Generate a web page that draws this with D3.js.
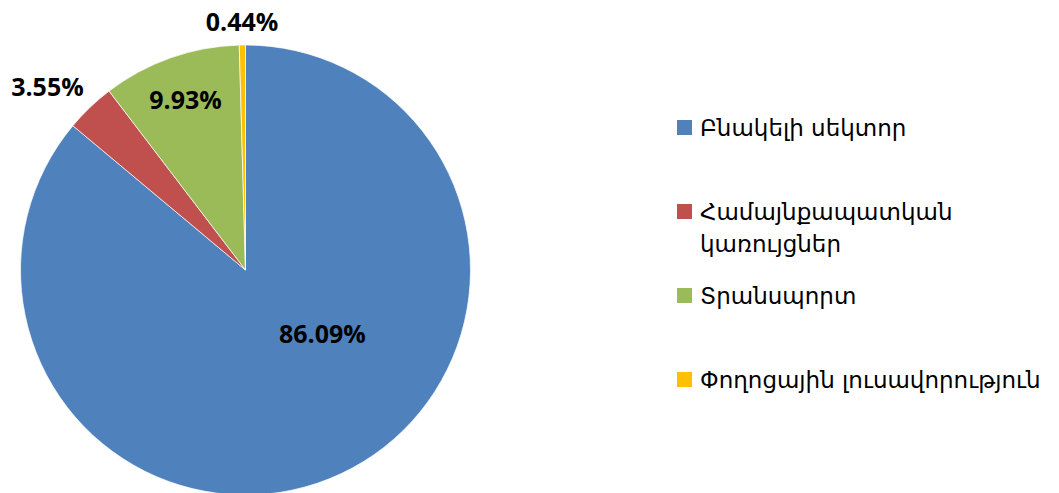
<!DOCTYPE html>
<html lang="hy">
  <head>
    <meta charset="utf-8">
    <title>Pie</title>
    <style>
      body { margin: 0; background: #fff; }
    </style>
  </head>
  <body>
    <svg id="chart" width="1059" height="493"></svg>
    <script src="https://d3js.org/d3.v7.min.js"></script>
    <script>
      // data
      let categories = ["Բնակելի սեկտոր", "Համայնքապատկան կառույցներ", "Տրանսպորտ", "Փողոցային լուսավորություն"]
      let values = [86.09, 3.55, 9.93, 0.44]
      let valueLabels = ["86.09%", "3.55%", "9.93%", "0.44%"]
      let legendLines = [["Բնակելի սեկտոր"], ["Համայնքապատկան", "կառույցներ"], ["Տրանսպորտ"], ["Փողոցային լուսավորություն"]]

      let colors = d3.scaleOrdinal().domain(categories).range(["#4F81BD", "#C0504D", "#9BBB59", "#FFC000"])

      let svg = d3.select("#chart")
      let cx = 245.5, cy = 270, R = 225

      let pie = d3.pie().sort(null).value(d => d.v)
      let arcs = pie(categories.map((c, i) => ({c: c, v: values[i], label: valueLabels[i]})))
      let arc = d3.arc().innerRadius(0).outerRadius(R)

      let g = svg.append("g").attr("transform", `translate(${cx},${cy})`)

      g.selectAll("path").data(arcs).enter()
        .append("path")
        .attr("d", arc)
        .attr("fill", d => colors(d.data.c))
        .attr("stroke", "#fff")
        .attr("stroke-width", 0.7)

      // label placement: radius factor + small nudge (excel-ish)
      let labelR = [0.44, 1.19, 0.8, 1.1]
      let nudge = [[35, -27], [-13, 10], [0, -1], [0, -2]]
      g.selectAll("text.lbl").data(arcs).enter()
        .append("text")
        .attr("class", "lbl")
        .attr("x", (d, i) => {
          let a = (d.startAngle + d.endAngle) / 2
          return Math.sin(a) * R * labelR[i] + nudge[i][0]
        })
        .attr("y", (d, i) => {
          let a = (d.startAngle + d.endAngle) / 2
          return -Math.cos(a) * R * labelR[i] + nudge[i][1]
        })
        .attr("text-anchor", "middle")
        .attr("dominant-baseline", "central")
        .style("font-family", "'Open Sans', sans-serif")
        .style("font-weight", "bold")
        .style("font-size", "25px")
        .text(d => d.data.label)

      // legend
      let legendY = d3.scalePoint().domain(categories).range([128, 380])
      let leg = svg.append("g")
      let items = leg.selectAll("g").data(categories).enter()
        .append("g")
        .attr("transform", d => `translate(677,${legendY(d)})`)

      items.append("rect")
        .attr("x", 0).attr("y", -8)
        .attr("width", 15).attr("height", 15)
        .attr("fill", d => colors(d))

      items.append("text")
        .attr("x", 23)
        .attr("y", 0)
        .style("font-family", "'DejaVu Sans', sans-serif")
        .style("font-size", "23px")
        .attr("fill", "#000")
        .each(function (d, i) {
          let t = d3.select(this)
          legendLines[i].forEach((line, j) => {
            t.append("tspan")
              .attr("x", 23)
              .attr("y", j * 32)
              .attr("dominant-baseline", "central")
              .text(line)
          })
        })
    </script>
  </body>
</html>
